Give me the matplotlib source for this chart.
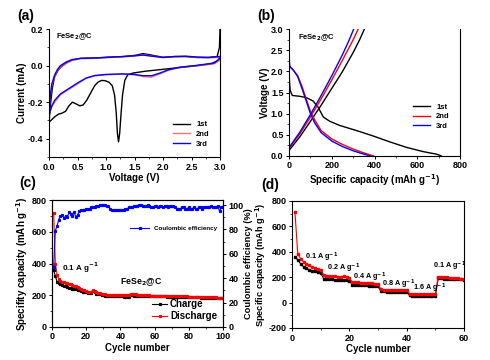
import numpy as np
import matplotlib
matplotlib.use("Agg")
import matplotlib.pyplot as plt
from matplotlib.ticker import AutoMinorLocator
from matplotlib.lines import Line2D

plt.rcParams['font.family'] = ['Liberation Sans', 'DejaVu Sans']
plt.rcParams['font.weight'] = 'bold'
plt.rcParams['axes.labelweight'] = 'bold'
plt.rcParams['xtick.labelsize'] = 6.5
plt.rcParams['ytick.labelsize'] = 6.5
plt.rcParams['axes.linewidth'] = 0.8
plt.rcParams['axes.unicode_minus'] = False

# ---------- (a) CV data ----------
cv1_cat_v = [3.0, 2.97, 2.85, 2.6, 2.3, 2.0, 1.7, 1.48, 1.38, 1.33, 1.29, 1.26, 1.24, 1.22, 1.2, 1.18, 1.15, 1.11, 1.05, 0.98, 0.92, 0.86, 0.8, 0.73, 0.66, 0.6, 0.54, 0.48, 0.41, 0.35, 0.29, 0.23, 0.17, 0.1, 0.05, 0.0]
cv1_cat_i = [0.05, 0.03, 0.01, 0.0, -0.01, -0.02, -0.03, -0.04, -0.05, -0.08, -0.16, -0.28, -0.37, -0.417, -0.37, -0.26, -0.16, -0.11, -0.09, -0.082, -0.081, -0.09, -0.11, -0.15, -0.19, -0.215, -0.22, -0.21, -0.2, -0.22, -0.25, -0.26, -0.265, -0.28, -0.295, -0.31]
cv1_an_v = [0.0, 0.03, 0.06, 0.1, 0.15, 0.2, 0.3, 0.4, 0.55, 0.8, 1.0, 1.3, 1.5, 1.65, 1.8, 2.0, 2.2, 2.4, 2.6, 2.8, 2.95, 2.99, 3.0]
cv1_an_i = [-0.31, -0.2, -0.12, -0.06, -0.03, -0.01, 0.015, 0.03, 0.04, 0.042, 0.046, 0.05, 0.056, 0.066, 0.058, 0.046, 0.05, 0.05, 0.045, 0.045, 0.05, 0.1, 0.2]
cv2_v = [3.0, 2.9, 2.6, 2.3, 2.1, 1.95, 1.8, 1.65, 1.5, 1.3, 1.0, 0.8, 0.65, 0.5, 0.35, 0.2, 0.1, 0.05, 0.0,
         0.02, 0.05, 0.1, 0.15, 0.2, 0.3, 0.4, 0.55, 0.8, 1.0, 1.3, 1.5, 1.65, 1.8, 2.0, 2.2, 2.4, 2.6, 2.8, 3.0]
cv2_i = [0.03, 0.01, 0.0, -0.01, -0.025, -0.045, -0.063, -0.06, -0.05, -0.046, -0.05, -0.056, -0.07, -0.1, -0.13, -0.16, -0.2, -0.225, -0.26,
         -0.18, -0.11, -0.06, -0.03, -0.01, 0.012, 0.028, 0.038, 0.04, 0.044, 0.048, 0.053, 0.06, 0.054, 0.044, 0.048, 0.05, 0.045, 0.043, 0.045]
cv3_v = [3.0, 2.9, 2.6, 2.3, 2.1, 1.95, 1.8, 1.65, 1.5, 1.3, 1.0, 0.8, 0.65, 0.5, 0.35, 0.2, 0.1, 0.05, 0.0,
         0.02, 0.05, 0.1, 0.15, 0.2, 0.3, 0.4, 0.55, 0.8, 1.0, 1.3, 1.5, 1.65, 1.8, 2.0, 2.2, 2.4, 2.6, 2.8, 3.0]
cv3_i = [0.04, 0.015, 0.002, -0.008, -0.022, -0.04, -0.055, -0.055, -0.048, -0.045, -0.048, -0.054, -0.068, -0.095, -0.125, -0.155, -0.19, -0.22, -0.27,
         -0.17, -0.1, -0.05, -0.02, 0.0, 0.02, 0.033, 0.04, 0.042, 0.045, 0.05, 0.054, 0.058, 0.052, 0.045, 0.05, 0.052, 0.047, 0.045, 0.05]

# ---------- (b) charge/discharge ----------
d1_c = [0, 2, 5, 15, 50, 80, 112, 136, 160, 190, 237, 315, 394, 472, 550, 628, 690, 712]
d1_v = [2.0, 1.75, 1.55, 1.43, 1.41, 1.38, 1.3, 1.15, 0.92, 0.82, 0.72, 0.6, 0.47, 0.33, 0.2, 0.1, 0.04, 0.0]
c1_c = [3, 50, 100, 150, 200, 250, 300, 330, 352]
c1_v = [0.15, 0.45, 0.82, 1.2, 1.6, 2.0, 2.45, 2.75, 3.0]
d2_c = [0, 2, 20, 40, 60, 80, 100, 120, 150, 200, 250, 300, 350, 395]
d2_v = [2.2, 2.12, 2.03, 1.9, 1.65, 1.35, 1.05, 0.85, 0.6, 0.4, 0.27, 0.16, 0.07, 0.0]
c2_c = [3, 50, 100, 150, 200, 250, 300, 323]
c2_v = [0.2, 0.52, 0.92, 1.35, 1.8, 2.27, 2.75, 3.0]
d3_c = [0, 1, 3, 20, 40, 60, 80, 100, 120, 150, 200, 250, 300, 350, 378]
d3_v = [2.78, 2.3, 2.12, 2.03, 1.88, 1.6, 1.3, 1.0, 0.78, 0.55, 0.35, 0.22, 0.12, 0.04, 0.0]
c3_c = [3, 50, 100, 150, 200, 250, 280, 302]
c3_v = [0.22, 0.56, 0.98, 1.43, 1.9, 2.4, 2.73, 3.0]

# ---------- (c) cycling ----------
cyc_c = list(range(1, 101))
dis_c = [720, 400, 330, 300, 290, 285, 282, 278, 275, 270,
         268, 262, 258, 255, 252, 245, 240, 235, 230, 225,
         222, 220, 220, 232, 228, 218, 215, 212, 210, 208,
         205, 204, 203, 202, 202, 201, 201, 200, 200, 200,
         200, 199, 199, 199, 200, 210, 208, 206, 205, 204,
         203, 202, 201, 200, 200, 199, 199, 198, 198, 198,
         197, 197, 197, 196, 196, 196, 195, 195, 195, 195,
         194, 194, 194, 193, 193, 193, 192, 192, 192, 191,
         191, 191, 190, 190, 190, 189, 189, 189, 188, 188,
         188, 187, 187, 188, 186, 186, 185, 185, 185, 184]
chg_c = [360, 320, 285, 275, 268, 262, 258, 255, 250, 248,
         245, 242, 240, 237, 234, 230, 226, 223, 220, 218,
         215, 213, 212, 225, 222, 210, 207, 205, 202, 200,
         198, 197, 196, 195, 195, 194, 194, 193, 193, 192,
         192, 191, 191, 190, 190, 200, 199, 198, 198, 197,
         197, 196, 196, 195, 195, 195, 194, 194, 194, 193,
         193, 193, 192, 192, 192, 192, 191, 191, 191, 191,
         190, 190, 190, 189, 189, 189, 189, 188, 188, 188,
         187, 187, 187, 186, 186, 186, 185, 185, 185, 184,
         184, 184, 183, 183, 182, 182, 181, 181, 180, 180]
ce_c = [49, 79, 83, 88, 91, 92, 89, 91, 90, 94,
        93, 91, 94, 90, 92, 95, 96, 96, 96, 97,
        97, 97, 98, 98, 98, 99, 99, 100, 100, 100,
        100, 99, 99, 97, 96, 96, 96, 96, 96, 96,
        96, 96, 97, 97, 98, 98, 98, 99, 99, 99,
        100, 100, 99, 99, 99, 100, 99, 98, 98, 99,
        99, 98, 99, 99, 98, 99, 99, 98, 99, 99,
        99, 98, 97, 97, 97, 98, 98, 97, 97, 98,
        97, 97, 98, 97, 97, 98, 98, 97, 98, 98,
        98, 98, 99, 98, 98, 98, 99, 95, 98, 98]

# ---------- (d) rate ----------
cyc_d = list(range(1, 61))
dis_d = [716, 383, 345, 320, 305, 292, 282, 272, 265, 257,
         218, 212, 210, 207, 205, 203, 201, 208, 200, 194,
         162, 160, 158, 157, 156, 154, 153, 151, 149, 146,
         103, 102, 101, 101, 100, 100, 99, 99, 99, 98,
         70, 69, 69, 69, 68, 68, 68, 68, 67, 67,
         204, 202, 200, 198, 196, 194, 192, 190, 188, 186]
chg_d = [362, 335, 305, 282, 268, 258, 250, 245, 240, 233,
         188, 185, 183, 182, 180, 178, 177, 180, 176, 172,
         140, 139, 138, 137, 136, 135, 134, 132, 130, 127,
         88, 87, 86, 86, 85, 85, 85, 85, 84, 84,
         56, 55, 55, 55, 55, 54, 54, 54, 54, 54,
         192, 190, 188, 187, 186, 185, 184, 183, 182, 180]
rate_labels = ["0.1 A g$^{-1}$", "0.2 A g$^{-1}$", "0.4 A g$^{-1}$", "0.8 A g$^{-1}$", "1.6 A g$^{-1}$", "0.1 A g$^{-1}$"]
rate_pos_x = [4.5, 12.2, 21.3, 31.4, 42.2, 49.3]
rate_pos_y = [355, 270, 200, 145, 110, 285]

fig = plt.figure(figsize=(4.9, 3.6), dpi=100)

def style(ax, top=True):
    ax.tick_params(direction='out', length=2.5, width=0.7, pad=1.5)
    ax.tick_params(which='minor', direction='out', length=1.5, width=0.5)
    ax.xaxis.set_minor_locator(AutoMinorLocator(2))
    ax.yaxis.set_minor_locator(AutoMinorLocator(2))
    if not top:
        ax.spines['top'].set_visible(False)

lw = 1.0
fs_lab = 7

# (a)
axa = fig.add_axes([0.100, 0.564, 0.349, 0.355])
axa.plot(cv1_cat_v + cv1_an_v, cv1_cat_i + cv1_an_i, color='black', lw=lw, label='1st')
axa.plot(cv2_v, cv2_i, color='#ff4d4d', lw=lw, label='2nd', alpha=0.8)
axa.plot(cv3_v, cv3_i, color='blue', lw=lw, label='3rd')
axa.set_xlim(0, 3.0)
axa.set_ylim(-0.5, 0.2)
axa.set_xticks(np.arange(0, 3.01, 0.5))
axa.set_yticks([-0.4, -0.2, 0.0, 0.2])
axa.set_xlabel('Voltage (V)', fontsize=fs_lab, labelpad=1)
axa.set_ylabel('Current (mA)', fontsize=fs_lab, labelpad=1)
axa.text(0.12, 0.16, 'FeSe$_2$@C', fontsize=5.5, fontweight='bold', va='center')
axa.legend(loc='lower right', fontsize=5.5, frameon=False, handlelength=2.2, labelspacing=0.3,
           bbox_to_anchor=(0.98, 0.02))
style(axa, top=False)

# (b)
axb = fig.add_axes([0.590, 0.567, 0.349, 0.352])
axb.plot(d1_c, d1_v, color='black', lw=lw, label='1st')
axb.plot(c1_c, c1_v, color='black', lw=lw)
axb.plot(d2_c, d2_v, color='red', lw=lw, label='2nd')
axb.plot(c2_c, c2_v, color='red', lw=lw)
axb.plot(d3_c, d3_v, color='blue', lw=lw, label='3rd')
axb.plot(c3_c, c3_v, color='blue', lw=lw)
axb.set_xlim(0, 800)
axb.set_ylim(0, 3.0)
axb.set_xticks([0, 200, 400, 600, 800])
axb.set_yticks(np.arange(0, 3.01, 0.5))
axb.set_xlabel('Specific capacity (mAh g$^{-1}$)', fontsize=fs_lab, labelpad=1)
axb.set_ylabel('Voltage (V)', fontsize=fs_lab, labelpad=1)
axb.text(40, 2.8, 'FeSe$_2$@C', fontsize=5.5, fontweight='bold', va='center')
axb.legend(loc='center right', fontsize=5.5, frameon=False, handlelength=2.2, labelspacing=0.3,
           bbox_to_anchor=(0.98, 0.31))
style(axb, top=False)

# (c)
axc = fig.add_axes([0.106, 0.092, 0.349, 0.352])
axc.plot(cyc_c, chg_c, color='black', lw=0.8, marker='s', ms=1.3, label='Charge')
axc.plot(cyc_c, dis_c, color='red', lw=0.8, marker='s', ms=1.3, label='Discharge')
axc.set_xlim(0, 100)
axc.set_ylim(0, 800)
axc.set_xticks(np.arange(0, 101, 20))
axc.set_yticks(np.arange(0, 801, 200))
axc.set_xlabel('Cycle number', fontsize=fs_lab, labelpad=1)
axc.set_ylabel('Specifity capacity (mAh g$^{-1}$)', fontsize=fs_lab, labelpad=1)
axc.text(6, 370, '0.1 A g$^{-1}$', fontsize=5.8, fontweight='bold', va='center')
axc.text(40, 280, 'FeSe$_2$@C', fontsize=6.3, fontweight='bold', va='center')
axc.legend(loc='lower right', fontsize=7, frameon=False, handlelength=1.5, labelspacing=0.2,
           borderaxespad=0.2, handletextpad=0.3)
style(axc)
axc2 = axc.twinx()
axc2.plot(cyc_c, ce_c, color='blue', lw=0.8, marker='s', ms=1.3)
axc2.set_ylim(0, 104)
axc2.set_yticks(np.arange(0, 101, 20))
axc2.set_ylabel('Coulombic efficiency (%)', fontsize=6.7, labelpad=0.5)
axc2.tick_params(direction='out', length=2.5, width=0.7, pad=1.5)
axc2.yaxis.set_minor_locator(AutoMinorLocator(2))
axc2.tick_params(which='minor', direction='out', length=1.5, width=0.5)
axc2.legend([Line2D([0], [0], color='blue', lw=0.8, marker='s', ms=1.3)], ['Coulombic efficiency'],
            loc='upper right', fontsize=4.5, frameon=False, bbox_to_anchor=(1.0, 0.84), handlelength=3)

# (d)
axd = fig.add_axes([0.596, 0.089, 0.351, 0.353])
axd.plot(cyc_d, chg_d, color='black', lw=0.8, marker='s', ms=1.5)
axd.plot(cyc_d, dis_d, color='red', lw=0.8, marker='s', ms=1.5)
axd.set_xlim(0, 60)
axd.set_ylim(-200, 800)
axd.set_xticks([0, 20, 40, 60])
axd.set_yticks(np.arange(-200, 801, 200))
axd.set_xlabel('Cycle number', fontsize=fs_lab, labelpad=1)
axd.set_ylabel('Specific capacity (mAh g$^{-1}$)', fontsize=6.7, labelpad=0.5)
for t, x, y in zip(rate_labels, rate_pos_x, rate_pos_y):
    axd.text(x, y, t, fontsize=5.2, fontweight='bold', va='center')
style(axd)

fig.text(0.035, 0.955, '(a)', fontsize=10, fontweight='bold', va='center')
fig.text(0.525, 0.955, '(b)', fontsize=10, fontweight='bold', va='center')
fig.text(0.040, 0.492, '(c)', fontsize=10, fontweight='bold', va='center')
fig.text(0.533, 0.487, '(d)', fontsize=10, fontweight='bold', va='center')

fig.savefig('out.png', dpi=100)
